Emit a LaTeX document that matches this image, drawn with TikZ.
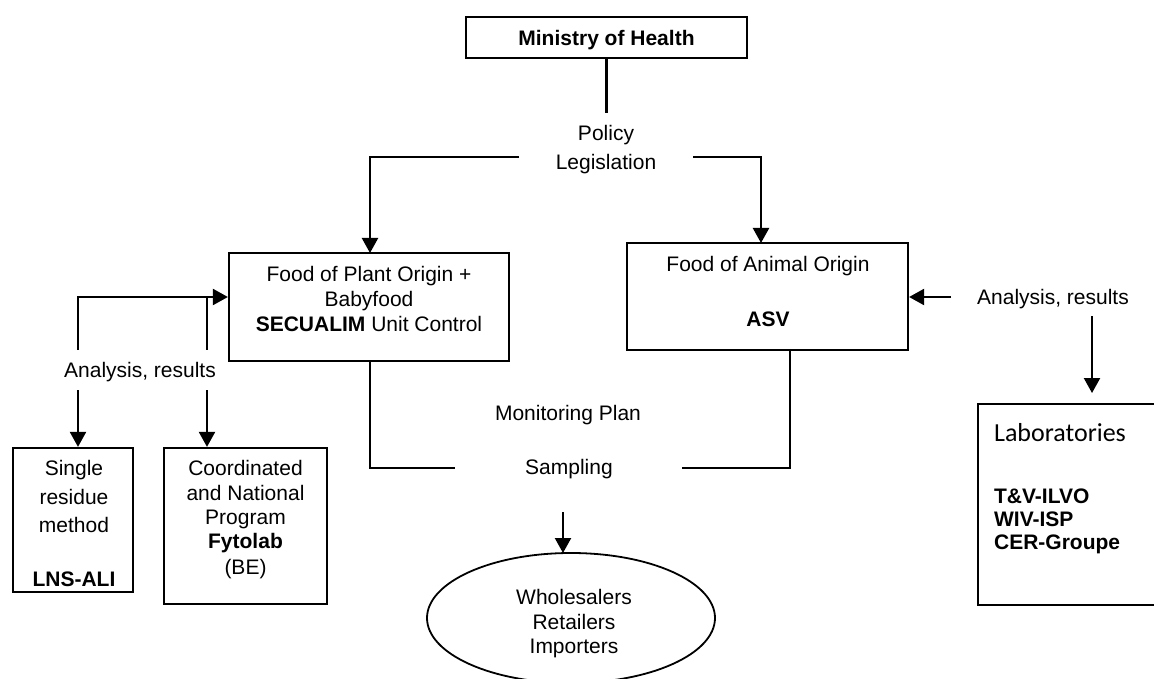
\documentclass[tikz,border=0pt]{standalone}
\usepackage{fontspec}
\setmainfont{Liberation Sans}
\newfontfamily\calfont{Carlito}
\usetikzlibrary{arrows.meta}
\begin{document}
\begin{tikzpicture}[x=1pt,y=-1pt,
  line width=2.2pt,
  txt/.style={inner sep=0pt,text height=15.2pt,text depth=0pt,font=\fontsize{21}{25}\selectfont},
  ltxt/.style={txt,anchor=west},
  box/.style={draw,rectangle,inner sep=0pt,line width=2.2pt},
  arr/.style={-{Triangle[length=15pt,width=16pt]}},
  ln/.style={line width=2.2pt}]
\useasboundingbox (0,0) rectangle (1154,679);
\clip (0,0) rectangle (1154,679);
% Ministry
\node[box,minimum width=281pt,minimum height=41pt] (moh) at (606.5,37.5) {};
\node[txt,font=\fontsize{21}{25}\selectfont\bfseries] (mohT) at (606.5,37.5) {Ministry of Health};
\coordinate (polTop) at (606.5,113);
\node[txt] (pol1) at (606,133) {Policy};
\node[txt] (pol2) at (606,162) {Legislation};
\coordinate (polL) at (519,157);
\coordinate (polR) at (693,157);
% Plant box
\node[box,minimum width=280pt,minimum height=108pt] (plant) at (369,307) {};
\node[txt] (p1) at (369,274) {Food of Plant Origin +};
\node[txt] (p2) at (369,299) {Babyfood};
\node[txt] (p3) at (369,324) {\textbf{SECUALIM} Unit Control};
% Animal box
\node[box,minimum width=281pt,minimum height=107pt] (animal) at (767.5,296.5) {};
\node[txt] (a1) at (768,264) {Food of Animal Origin};
\node[txt] (a2) at (768,319) {\textbf{ASV}};
% Policy connectors
\draw[ln,arr] (polL) -- (370,157) -- (370,253);
\draw[ln,arr] (polR) -- (761,157) -- (761,243);
\draw[ln] (moh.south) -- (polTop);
% Right analysis
\node[txt] (anR) at (1053,297) {Analysis, results};
\coordinate (anRw) at (951,297);
\coordinate (anRs) at (1092,316);
\coordinate (labArr) at (1092,393);
\draw[ln,arr] (anRw) -- (animal.east |- anRw);
\draw[ln,arr] (anRs) -- (labArr);
% Laboratories
\node[box,minimum width=190pt,minimum height=201pt] (lab) at (1073,504.5) {};
\node[ltxt,font=\fontsize{26}{30}\calfont,text height=17pt] (labT) at (993,433) {Laboratories};
\node[ltxt,font=\fontsize{21}{25}\selectfont\bfseries] (l1) at (993,496) {T\&V-ILVO};
\node[ltxt,font=\fontsize{21}{25}\selectfont\bfseries] (l2) at (993,519) {WIV-ISP};
\node[ltxt,font=\fontsize{21}{25}\selectfont\bfseries] (l3) at (993,542) {CER-Groupe};
% Left analysis
\node[txt] (anL) at (140,370) {Analysis, results};
\coordinate (anLa) at (78,350);
\coordinate (anLb) at (207,350);
\coordinate (anLc) at (78,390);
\coordinate (anLd) at (207,390);
\draw[ln,arr] (anLa) -- (78,297) -- (plant.west |- 0,297);
\draw[ln] (207,297) -- (anLb);
% Single box
\node[box,minimum width=120pt,minimum height=144pt] (single) at (73,520) {};
\node[txt] (s1) at (74,468) {Single};
\node[txt] (s2) at (74,497) {residue};
\node[txt] (s3) at (74,525) {method};
\node[txt] (s4) at (74,579) {\textbf{LNS-ALI}};
% Coordinated box
\node[box,minimum width=163pt,minimum height=156pt] (coord) at (245.5,526) {};
\node[txt] (c1) at (245.5,468) {Coordinated};
\node[txt] (c2) at (245.5,493) {and National};
\node[txt] (c3) at (245.5,517) {Program};
\node[txt] (c4) at (245.5,541) {\textbf{Fytolab}};
\node[txt] (c5) at (245.5,567) {(BE)};
\draw[ln,arr] (anLc) -- (anLc |- single.north);
\draw[ln,arr] (anLd) -- (anLd |- coord.north);
% Monitoring / sampling
\node[txt] (mon) at (568,413) {Monitoring Plan};
\node[txt] (samp) at (569,467) {Sampling};
\coordinate (sampL) at (455,468);
\coordinate (sampR) at (682,468);
\draw[ln] (370,361) -- (370,468) -- (sampL);
\draw[ln] (sampR) -- (790,468) -- (790,350);
% Ellipse
\draw[line width=1.8pt] (571,618) ellipse [x radius=144, y radius=65];
\coordinate (ell) at (563,553);
\node[txt] (e1) at (574,597) {Wholesalers};
\node[txt] (e2) at (574,622) {Retailers};
\node[txt] (e3) at (574,646) {Importers};
\coordinate (sampS) at (563,512);
\draw[ln,arr] (sampS) -- (ell);
\end{tikzpicture}
\end{document}
